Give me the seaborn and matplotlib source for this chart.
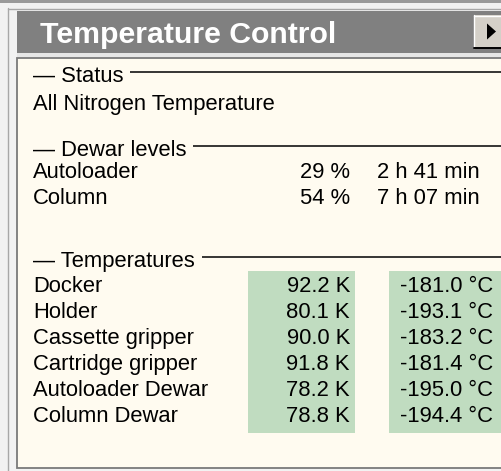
import numpy as np
import matplotlib
matplotlib.use("Agg")
import matplotlib.pyplot as plt
import seaborn as sns
from matplotlib.colors import ListedColormap
from matplotlib.patches import Rectangle, Polygon

# ---------------- data ----------------
title = "Temperature Control"
sections = ["Status", "Dewar levels", "Temperatures"]
status_text = "All Nitrogen Temperature"
dewar_names = ["Autoloader", "Column"]
dewar_pct = [29, 54]
dewar_time = ["2 h 41 min", "7 h 07 min"]
temp_names = ["Docker", "Holder", "Cassette gripper", "Cartridge gripper",
              "Autoloader Dewar", "Column Dewar"]
temp_k = [92.2, 80.1, 90.0, 91.8, 78.2, 78.8]
temp_c = [-181.0, -193.1, -183.2, -181.4, -195.0, -194.4]

# ---------------- style ----------------
sns.set_theme(style="white")
plt.rcParams["font.family"] = ["Liberation Sans", "DejaVu Sans"]
plt.rcParams["text.color"] = "black"

W, H = 501, 471
CREAM = "#fffbf0"
GREEN = "#c0dcc0"
TITLE_GRAY = "#808080"
FS = 15.8

fig = plt.figure(figsize=(W / 100, H / 100), dpi=100)
fig.patch.set_facecolor("#f2f2f2")

bg = fig.add_axes([0, 0, 1, 1], zorder=1)
bg.set_xlim(0, W)
bg.set_ylim(H, 0)
bg.set_axis_off()

# outer frame
bg.add_patch(Rectangle((0, 0), W, 3, facecolor="#9a9a9a", edgecolor="none"))
bg.plot([8.5, 8.5], [8, H], color="#a8a8a8", lw=1.0)
bg.plot([8.5, W], [8.5, 8.5], color="#a8a8a8", lw=1.0)
# title bar
bg.add_patch(Rectangle((17, 11), W - 17, 41.5, facecolor=TITLE_GRAY, edgecolor="none"))
bg.add_patch(Rectangle((17, 52.5), W - 17, 4, facecolor="#e6e6e6", edgecolor="none"))
# content panel
bg.add_patch(Rectangle((17.5, 57.5), W + 20, 410.5, facecolor=CREAM,
                       edgecolor="#7a7a7a", lw=1.3))
# button at right of title bar
bg.add_patch(Rectangle((474, 15), 30, 33, facecolor="#d4d0c8", edgecolor="none"))
bg.plot([474.5, 474.5], [15, 48], color="white", lw=1.0)
bg.plot([474.5, W], [15.5, 15.5], color="white", lw=1.0)
bg.plot([474, W], [48, 48], color="black", lw=1.4)
bg.add_patch(Polygon([[487, 23.5], [487, 39.5], [496, 31.5]], closed=True,
                     facecolor="black", edgecolor="none"))

# green value cells as single-colour heatmaps
cmap = ListedColormap([GREEN])
for x0, x1, vals in [(248, 355, temp_k), (389, W + 10, temp_c)]:
    hax = fig.add_axes([x0 / W, (H - 433) / H, (x1 - x0) / W, 162 / H], zorder=2)
    sns.heatmap(np.array(vals).reshape(-1, 1), ax=hax, cmap=cmap, cbar=False,
                xticklabels=False, yticklabels=False)
    hax.set_axis_off()

# overlay for texts and rules
fg = fig.add_axes([0, 0, 1, 1], zorder=5)
fg.set_xlim(0, W)
fg.set_ylim(H, 0)
fg.set_axis_off()
fg.patch.set_alpha(0)

fg.text(40, 43, title, color="white", fontsize=21.8, fontweight="bold",
        va="baseline", ha="left")

fig.canvas.draw()
renderer = fig.canvas.get_renderer()


def header(label, base):
    t = fg.text(33, base, "\u2014 " + label, fontsize=FS, color="black",
                va="baseline", ha="left")
    bb = t.get_window_extent(renderer=renderer)
    xend = bb.x1  # pixels == data units here
    fg.plot([xend + 7, W], [base - 10, base - 10], color="black", lw=1.1,
            solid_capstyle="butt")


LX = 33
# Status
header(sections[0], 82)
fg.text(LX, 110, status_text, fontsize=FS, va="baseline", ha="left")

# Dewar levels
header(sections[1], 156)
for i, (n, p, tm) in enumerate(zip(dewar_names, dewar_pct, dewar_time)):
    yb = 178 + 25.5 * i
    fg.text(LX, yb, n, fontsize=FS, va="baseline", ha="left")
    fg.text(350, yb, f"{p} %", fontsize=FS, va="baseline", ha="right")
    fg.text(377, yb, tm, fontsize=FS, va="baseline", ha="left")

# Temperatures
header(sections[2], 267)
for i, (n, k, c) in enumerate(zip(temp_names, temp_k, temp_c)):
    yb = 292 + 26 * i
    fg.text(LX, yb, n, fontsize=FS, va="baseline", ha="left")
    fg.text(350, yb, f"{k:.1f} K", fontsize=FS, va="baseline", ha="right")
    fg.text(493, yb, f"{c:.1f} \u00b0C", fontsize=FS, va="baseline", ha="right")

fig.savefig("out.png", dpi=100, facecolor=fig.get_facecolor())
